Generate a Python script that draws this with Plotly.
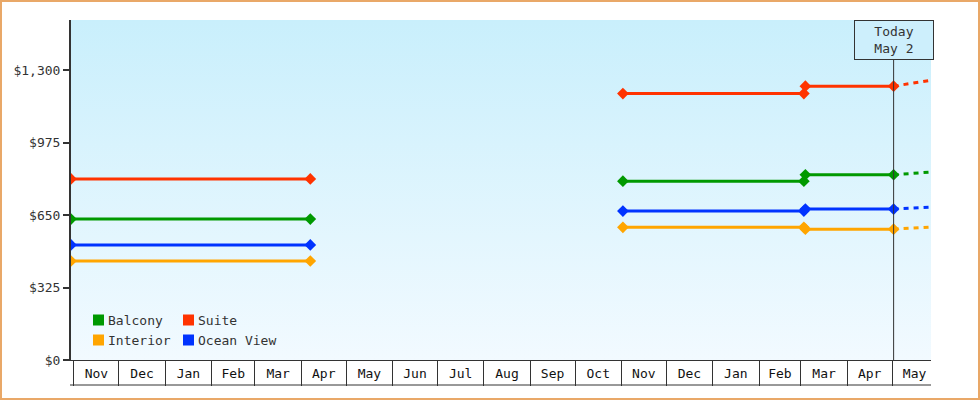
import plotly.graph_objs as go

# price history, two sailing seasons with a gap between them
dates = ["2023-10-30", "2024-04-07", None,
         "2024-11-02", "2025-03-03", "2025-03-04", "2025-05-02"]
balcony = [632, 632, None, 802, 802, 831, 831]
suite = [812, 812, None, 1195, 1195, 1228, 1228]
interior = [444, 444, None, 595, 595, 587, 587]
ocean_view = [516, 516, None, 668, 668, 677, 677]

# projection after today
forecast_dates = ["2025-05-02", "2025-05-27"]
balcony_fc = [831, 843]
suite_fc = [1228, 1255]
interior_fc = [587, 596]
ocean_view_fc = [677, 686]

today = "2025-05-02"
today_label = "Today<br>May 2"
x_range = ["2023-10-30", "2025-05-27"]
y_max = 1525
y_ticks = [0, 325, 650, 975, 1300]
y_tick_labels = ["$0", "$325", "$650", "$975", "$1,300"]

# legend order, row by row (two columns)
legend_names = ["Balcony", "Suite", "Interior", "Ocean View"]

series = {
    "Balcony": (balcony, balcony_fc, "#009900"),
    "Suite": (suite, suite_fc, "#ff3300"),
    "Interior": (interior, interior_fc, "#ffa500"),
    "Ocean View": (ocean_view, ocean_view_fc, "#0033ff"),
}

FONT = "DejaVu Sans Mono"
INK = "#333333"
W, H = 980, 400
L, R, T, B = 71, 49, 20, 40
PW, PH = W - L - R, H - T - B


def px_x(px):
    return (px - L) / PW


def px_y(py):
    return (H - B - py) / PH


fig = go.Figure()

# gradient background of the plot area
fig.add_trace(go.Scatter(
    x=[x_range[0], x_range[1], x_range[1], x_range[0], x_range[0]],
    y=[0, 0, y_max, y_max, 0],
    mode="none", fill="toself", hoverinfo="skip", showlegend=False,
    fillgradient=dict(type="vertical", colorscale=[[0, "#f2faff"], [1, "#c9effc"]]),
))

for name in ["Interior", "Ocean View", "Balcony", "Suite"]:
    vals, fc, color = series[name]
    fig.add_trace(go.Scatter(
        x=dates, y=vals, mode="lines+markers", name=name, showlegend=False,
        line=dict(color=color, width=3),
        marker=dict(symbol="diamond", size=9, color=color),
        connectgaps=False,
    ))
    fig.add_trace(go.Scatter(
        x=forecast_dates, y=fc, mode="lines", showlegend=False, hoverinfo="skip",
        line=dict(color=color, width=3, dash="5px,5px"),
    ))

# legend drawn by hand: square swatch + label, two columns
for i, name in enumerate(legend_names):
    color = series[name][2]
    col, row = i % 2, i // 2
    sx = 93 + col * 90
    sy = 320 + row * 20
    fig.add_shape(type="rect", xref="paper", yref="paper",
                  x0=px_x(sx), x1=px_x(sx + 11), y0=px_y(sy + 5.5), y1=px_y(sy - 5.5),
                  fillcolor=color, line=dict(width=0))
    fig.add_annotation(x=px_x(sx + 13), y=px_y(sy), xref="paper", yref="paper",
                       xanchor="left", yanchor="middle", text=name, showarrow=False,
                       font=dict(family=FONT, size=13, color=INK))

fig.add_shape(type="line", xref="x", yref="paper", x0=today, x1=today, y0=0, y1=1,
              line=dict(color=INK, width=1))
# bottom edge of the month label row
fig.add_shape(type="line", xref="paper", yref="paper", x0=px_x(70), x1=1,
              y0=px_y(385), y1=px_y(385), line=dict(color=INK, width=1))
# outer frame
fig.add_shape(type="rect", xref="paper", yref="paper",
              x0=px_x(1), x1=px_x(W - 1), y0=px_y(H - 1), y1=px_y(1),
              line=dict(color="#e9a868", width=2))

fig.add_annotation(x=today, y=1, xref="x", yref="paper", yanchor="top",
                   text=today_label, showarrow=False,
                   font=dict(family=FONT, size=13, color=INK),
                   bgcolor="#cdeffc", bordercolor=INK, borderwidth=1,
                   width=76, height=36)

fig.update_layout(
    width=W, height=H,
    margin=dict(l=L, r=R, t=T, b=B),
    paper_bgcolor="white", plot_bgcolor="rgba(0,0,0,0)",
    font=dict(family=FONT, size=13, color=INK),
    showlegend=False,
    xaxis=dict(type="date", range=x_range, dtick="M1", ticks="outside", ticklen=25,
               tickcolor=INK, tickwidth=1, showticklabels=False, showgrid=False,
               zeroline=False, showline=True, linecolor=INK, linewidth=1),
    xaxis2=dict(type="date", range=x_range, overlaying="x", anchor="y", side="bottom",
                dtick="M1", tickformat="%b", ticklabelmode="period", ticks="outside",
                ticklen=1, tickcolor="rgba(0,0,0,0)", showgrid=False, zeroline=False,
                showline=False, tickfont=dict(family=FONT, size=13, color="#111111")),
    yaxis=dict(range=[0, y_max], tickvals=y_ticks, ticktext=y_tick_labels,
               ticks="outside", ticklen=6, tickwidth=2, tickcolor=INK, showgrid=False,
               zeroline=False, showline=True, linecolor=INK, linewidth=2,
               tickfont=dict(family=FONT, size=13, color=INK)),
)

# an empty trace so the month-label axis is drawn
fig.add_trace(go.Scatter(x=[None], y=[None], xaxis="x2", showlegend=False, hoverinfo="skip"))

fig.write_html("out.html", config={"displayModeBar": False},
               post_script="document.body.style.margin='0';")
